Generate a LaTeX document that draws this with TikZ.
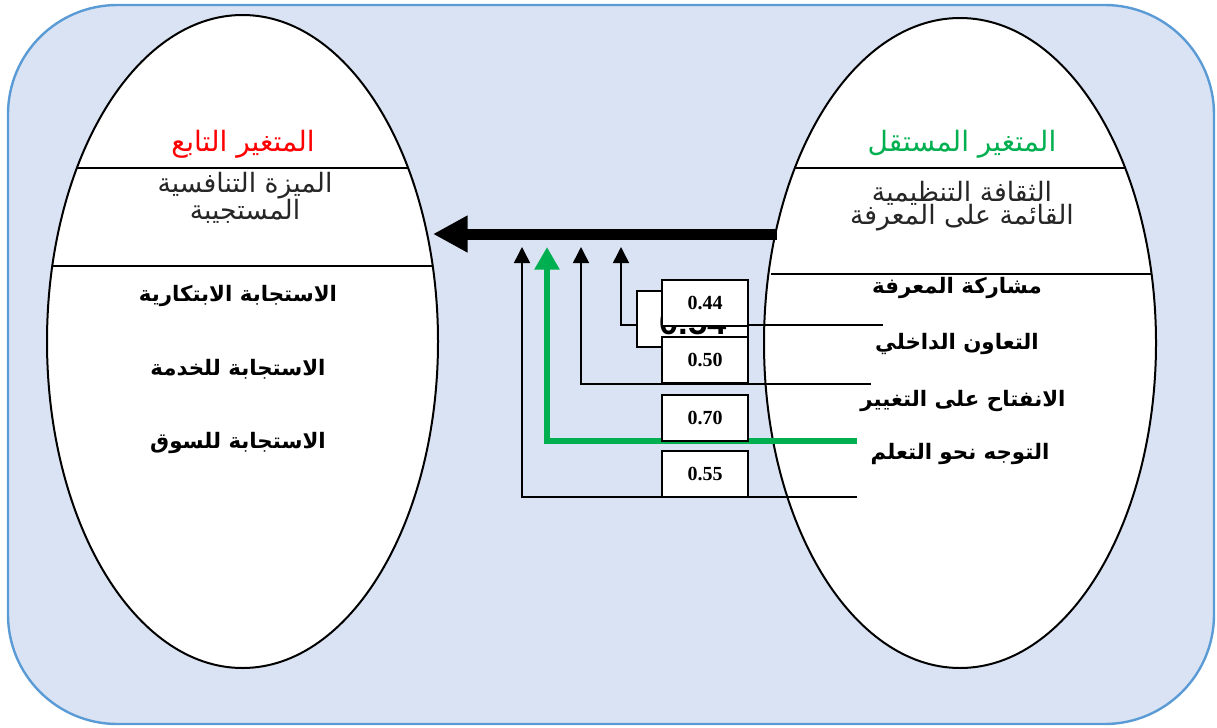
\documentclass[tikz,border=0pt]{standalone}
\usepackage{fontspec}
\setmainfont{Liberation Serif}
\newfontfamily\arabicfont[Script=Arabic]{DejaVu Sans}
\newfontfamily\arialfont{Liberation Sans}
\TeXXeTstate=1
\usepackage{tikz}
\usetikzlibrary{calc, positioning}
\usetikzlibrary{shapes, arrows, arrows.meta}
\definecolor{bgblue}{RGB}{218,227,243}
\definecolor{frameblue}{RGB}{91,155,213}
\definecolor{indgreen}{RGB}{0,176,80}
\tikzset{
    vartitle/.style={font=\arabicfont\fontsize{21}{23}\selectfont, inner sep=0pt},
    varname/.style={font=\arabicfont\fontsize{20}{21}\selectfont, text=black!85, inner sep=0pt},
    dimname/.style={font=\arabicfont\bfseries\fontsize{16}{18}\selectfont, inner sep=0pt},
    valbox/.style={rectangle, draw, fill=white, line width=1.5pt, minimum width=64.5pt, minimum height=34.5pt, inner sep=0pt, font=\bfseries\fontsize{15}{17}\selectfont},
    thinarrow/.style={line width=1.1pt, -{Triangle[length=12pt, width=12pt]}},
}

\begin{document}
\begin{tikzpicture}[x=0.75pt, y=-0.75pt]
    \useasboundingbox (0,0) rectangle (1217,728);
    % frame
    \draw[frameblue, fill=bgblue, line width=1.8pt, rounded corners=82pt] (8,5) rectangle (1214,724);

    % the two variables
    \node[draw, fill=white, ellipse, line width=1.5pt, inner sep=0pt, minimum width=293.25pt, minimum height=489.75pt] (dep) at (242.5,341.5) {};
    \node[draw, fill=white, ellipse, line width=1.5pt, inner sep=0pt, minimum width=294pt, minimum height=487.5pt] (indep) at (960,343) {};
    \draw[line width=2.2pt] (77,168) -- (408,168);
    \draw[line width=2.2pt] (52,266) -- (433,266);
    \draw[line width=2.2pt] (795,168) -- (1125,168);
    \draw[line width=2.2pt] (771,274) -- (1151,274);

    \node[vartitle, text=red] (depTitle) at (243,144) {\beginR المتغير التابع\endR};
    \node[varname] (depName1) at (245,186) {\beginR الميزة التنافسية\endR};
    \node[varname] (depName2) at (245,211) {\beginR المستجيبة\endR};
    \node[dimname] (dep1) at (238,296) {\beginR الاستجابة الابتكارية\endR};
    \node[dimname] (dep2) at (238,369) {\beginR الاستجابة للخدمة\endR};
    \node[dimname] (dep3) at (238,443) {\beginR الاستجابة للسوق\endR};

    \node[vartitle, text=indgreen] (indTitle) at (962,144) {\beginR المتغير المستقل\endR};
    \node[varname] (indName1) at (962,193) {\beginR الثقافة التنظيمية\endR};
    \node[varname] (indName2) at (962,218) {\beginR القائمة على المعرفة\endR};
    \node[dimname] (ind1) at (957,288) {\beginR مشاركة المعرفة\endR};
    \node[dimname] (ind2) at (957,344) {\beginR التعاون الداخلي\endR};
    \node[dimname] (ind3) at (963,401) {\beginR الانفتاح على التغيير\endR};
    \node[dimname] (ind4) at (960,454) {\beginR التوجه نحو التعلم\endR};

    % main effect
    \coordinate (bigStart) at (777,234);
    \coordinate (bigTip) at (433,234);
    \draw[line width=8.25pt, -{Triangle[length=26pt, width=26pt]}] (bigStart) -- (bigTip);

    % effects of the dimensions
    \coordinate (s1) at (883,325);  \coordinate (t1) at (621,247);
    \coordinate (s2) at (871,384);  \coordinate (t2) at (581,247);
    \coordinate (s3) at (857,441);  \coordinate (t3) at (547,247);
    \coordinate (s4) at (857,497);  \coordinate (t4) at (522,247);
    \draw[thinarrow] (s1) -| (t1);
    \draw[thinarrow] (s2) -| (t2);
    \draw[indgreen, line width=4.8pt, -{Triangle[length=17pt, width=18pt]}] (s3) -| (t3);
    \draw[thinarrow] (s4) -| (t4);

    % values
    \node[valbox, minimum width=83pt, minimum height=42pt] (vAll) at (692.5,319) {};
    \node[font=\arialfont\bfseries\fontsize{26}{28}\selectfont, inner sep=0pt] (vAllLabel) at (693,323) {0.54};
    \foreach \val/\yy [count=\k] in {0.44/303, 0.50/360, 0.70/418, 0.55/474}
        \node[valbox] (v\k) at (705,\yy) {\val};
\end{tikzpicture}
\end{document}
